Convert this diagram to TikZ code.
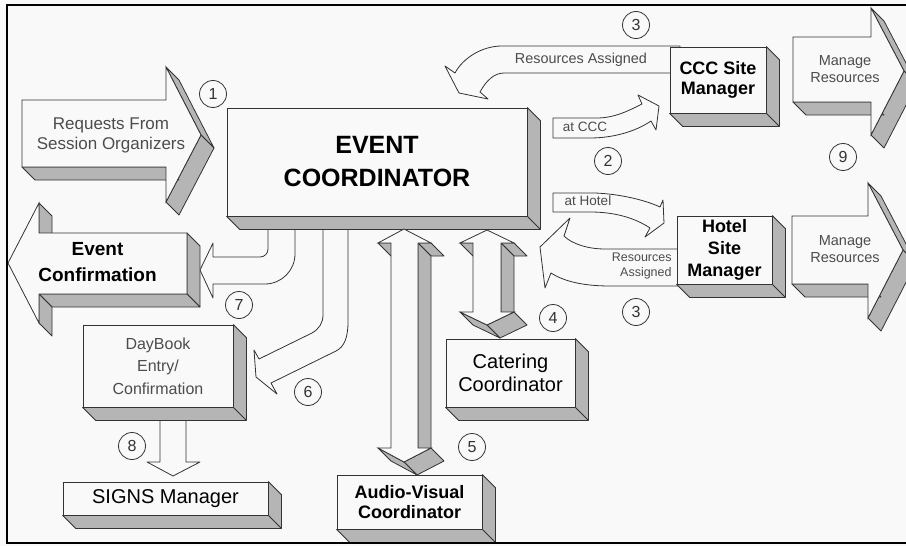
\documentclass[tikz,border=0pt]{standalone}
\usepackage{fontspec}
\setmainfont{Liberation Sans}
\usetikzlibrary{positioning}

\definecolor{linegray}{gray}{0.2}
\definecolor{sidegray}{gray}{0.71}
\definecolor{facewhite}{gray}{0.975}
\definecolor{soft}{gray}{0.3}

\newcommand\fs[2]{\fontsize{#1}{#2}\selectfont}

% 3-D block: corners clockwise, first corner repeated at the end
\newcommand\extrude[1]{%
  \foreach \x/\y [count=\n, remember=\x as \lx, remember=\y as \ly] in {#1}{%
    \ifnum\n>1
      \pgfmathparse{(\y-\ly)-(\x-\lx)}%
      \ifdim\pgfmathresult pt>0pt
        \filldraw[side] (\lx,\ly) -- (\x,\y) -- ++(13,13) -- ++(\lx-\x,\ly-\y) -- cycle;
      \fi
    \fi}%
  \blockface#1\endcorners}
\def\blockface#1/#2,#3\endcorners{\filldraw[face] (#1,#2) \foreach \x/\y in {#3}{ -- (\x,\y)} -- cycle;}

% depth of a box node
\newcommand\boxdepth[1]{%
  \filldraw[side] (#1.south west) -- ++(13,13) -- ([shift={(13,13)}]#1.south east)
    -- ([shift={(13,13)}]#1.north east) -- (#1.north east) -- (#1.south east) -- cycle;
  \draw[linegray] (#1.south east) -- ++(13,13);}

\begin{document}
\begin{tikzpicture}[x=1pt, y=-1pt, line width=0.8pt,
  face/.style={fill=facewhite, draw=linegray},
  side/.style={fill=sidegray, draw=linegray, line join=round},
  flat/.style={fill=facewhite, draw=linegray, line join=round},
  box/.style={face, inner sep=0pt, align=center},
  txt/.style={align=center, inner sep=0pt},
  num/.style={circle, draw=linegray, minimum size=27, inner sep=0pt, font=\fs{16}{16}, text=linegray}]
\useasboundingbox (0,0) rectangle (906,546);
\clip (0,0) rectangle (906,546);
\fill[facewhite] (0,0) rectangle (906,546);

% flat arrows
\filldraw[flat] (680,46) -- (502,46) .. controls (482,46) and (463,58) .. (455,73)
  -- (445,66) -- (459,93) -- (488,99) -- (480,92)
  .. controls (486,81) and (494,73) .. (504,73) -- (680,73) -- cycle;
\filldraw[flat] (553,118) -- (597,118) .. controls (615,118) and (630,110) .. (642,104)
  -- (638,95) -- (659,106) -- (656,130) -- (651,121)
  .. controls (635,132) and (612,138) .. (590,138) -- (553,138) -- cycle;
\filldraw[flat] (553,193) -- (595,193) .. controls (620,194) and (645,200) .. (660,207)
  -- (663,200) -- (664,223) -- (645,237) -- (650,228)
  .. controls (635,218) and (615,212) .. (590,212) -- (553,212) -- cycle;
\filldraw[flat] (684,249) -- (605,249) .. controls (588,249) and (572,244) .. (564,236)
  -- (570,218) -- (540,247) -- (545,288) -- (551,273)
  .. controls (565,282) and (585,286) .. (610,286) -- (684,286) -- cycle;
\filldraw[flat] (268,222) -- (268,249) .. controls (268,253.5) and (264.5,257) .. (260,257)
  -- (213,257) -- (213,243) -- (200,270) -- (213,298) -- (213,284) -- (265,284)
  .. controls (281.5,284) and (295,270.5) .. (295,254) -- (295,222) -- cycle;
\filldraw[flat] (323,222) -- (323,315) .. controls (323,323) and (319,329) .. (312,333)
  -- (259,359) -- (254,350) -- (256,377) -- (277,394) -- (271,383) -- (336,351)
  .. controls (344,347) and (348,338) .. (348,322) -- (348,222) -- cycle;
\filldraw[flat] (160,414) -- (160,462) -- (147,462) -- (173,476) -- (200,462)
  -- (186,462) -- (186,414) -- cycle;

% boxes
\node[box, minimum width=300, minimum height=108, font=\bfseries\fs{25}{33}] (ec) at (377,162) {EVENT\\COORDINATOR};
\node[box, minimum width=96, minimum height=66, font=\bfseries\fs{18}{20}] (ccc) at (718,80) {CCC Site\\Manager};
\node[box, minimum width=95, minimum height=68, font=\bfseries\fs{18}{22}] (hotel) at (724.5,250) {Hotel\\Site\\Manager};
\node[box, minimum width=150, minimum height=82, font=\fs{16}{22.5}, text=soft] (daybook) at (158,366) {DayBook\\Entry/\\Confirmation};
\node[box, minimum width=129, minimum height=68, font=\fs{20}{23}] (catering) at (510.5,373) {Catering\\Coordinator};
\node[box, minimum width=145, minimum height=54, font=\bfseries\fs{18}{20}] (av) at (409.5,502) {Audio-Visual\\Coordinator};
\node[box, minimum width=205, minimum height=33, font=\fs{20}{24}] (signs) at (165.5,498.5) {SIGNS Manager};
\foreach \b in {ec,ccc,hotel,daybook,catering,av,signs} {\boxdepth{\b}}

% block arrows
\extrude{22/100, 166/100, 166/67, 201/135, 166/202, 166/167, 22/167, 22/100}
\extrude{8/263, 39/203, 39/233, 187/233, 187/294, 39/294, 39/323, 8/263}
\extrude{793/37, 871/37, 871/8, 904/71, 871/135, 871/102, 793/102, 793/37}
\extrude{792/216, 868/216, 868/183, 903/250, 868/318, 868/284, 792/284, 792/216}
\extrude{404/229, 431/243, 418/243, 418/448, 431/448, 404/462, 378/448, 391/448, 391/243, 378/243, 404/229}
\extrude{487/230, 514/243, 501/243, 501/312, 514/312, 487/325, 460/312, 473/312, 473/243, 460/243, 487/230}

% texts
\node[txt, font=\fs{17}{20}, text=soft] (requests) at (111,135.5) {Requests From\\Session Organizers};
\node[txt, font=\bfseries\fs{19}{26}] (confirm) at (97.5,262) {Event\\Confirmation};
\node[txt, font=\fs{14.5}{17}, text=soft] (manage1) at (845,69) {Manage\\Resources};
\node[txt, font=\fs{14.5}{17}, text=soft] (manage2) at (845,248.7) {Manage\\Resources};
\node[txt, font=\fs{14.4}{17}, text=soft] (assigned1) at (581,59.3) {Resources Assigned};
\node[txt, font=\fs{13.5}{16}, text=soft] (atccc) at (585,127) {at CCC};
\node[txt, font=\fs{13.5}{16}, text=soft] (athotel) at (588,201) {at Hotel};
\node[txt, font=\fs{12.5}{15}, text=soft, anchor=east, align=right] (assigned2) at (672,266.3) {Resources\\Assigned};

% step numbers
\node[num] (c1) at (213,94) {1};
\node[num] (c2) at (608,161) {2};
\node[num] (c3a) at (636,25) {3};
\node[num] (c3b) at (636,312) {3};
\node[num] (c4) at (553,318) {4};
\node[num] (c5) at (472,447) {5};
\node[num] (c6) at (308,392) {6};
\node[num] (c7) at (239,305) {7};
\node[num] (c8) at (132,446) {8};
\node[num] (c9) at (843,157) {9};

\draw[line width=2pt] (7,5) rectangle (920,543);
\end{tikzpicture}
\end{document}
